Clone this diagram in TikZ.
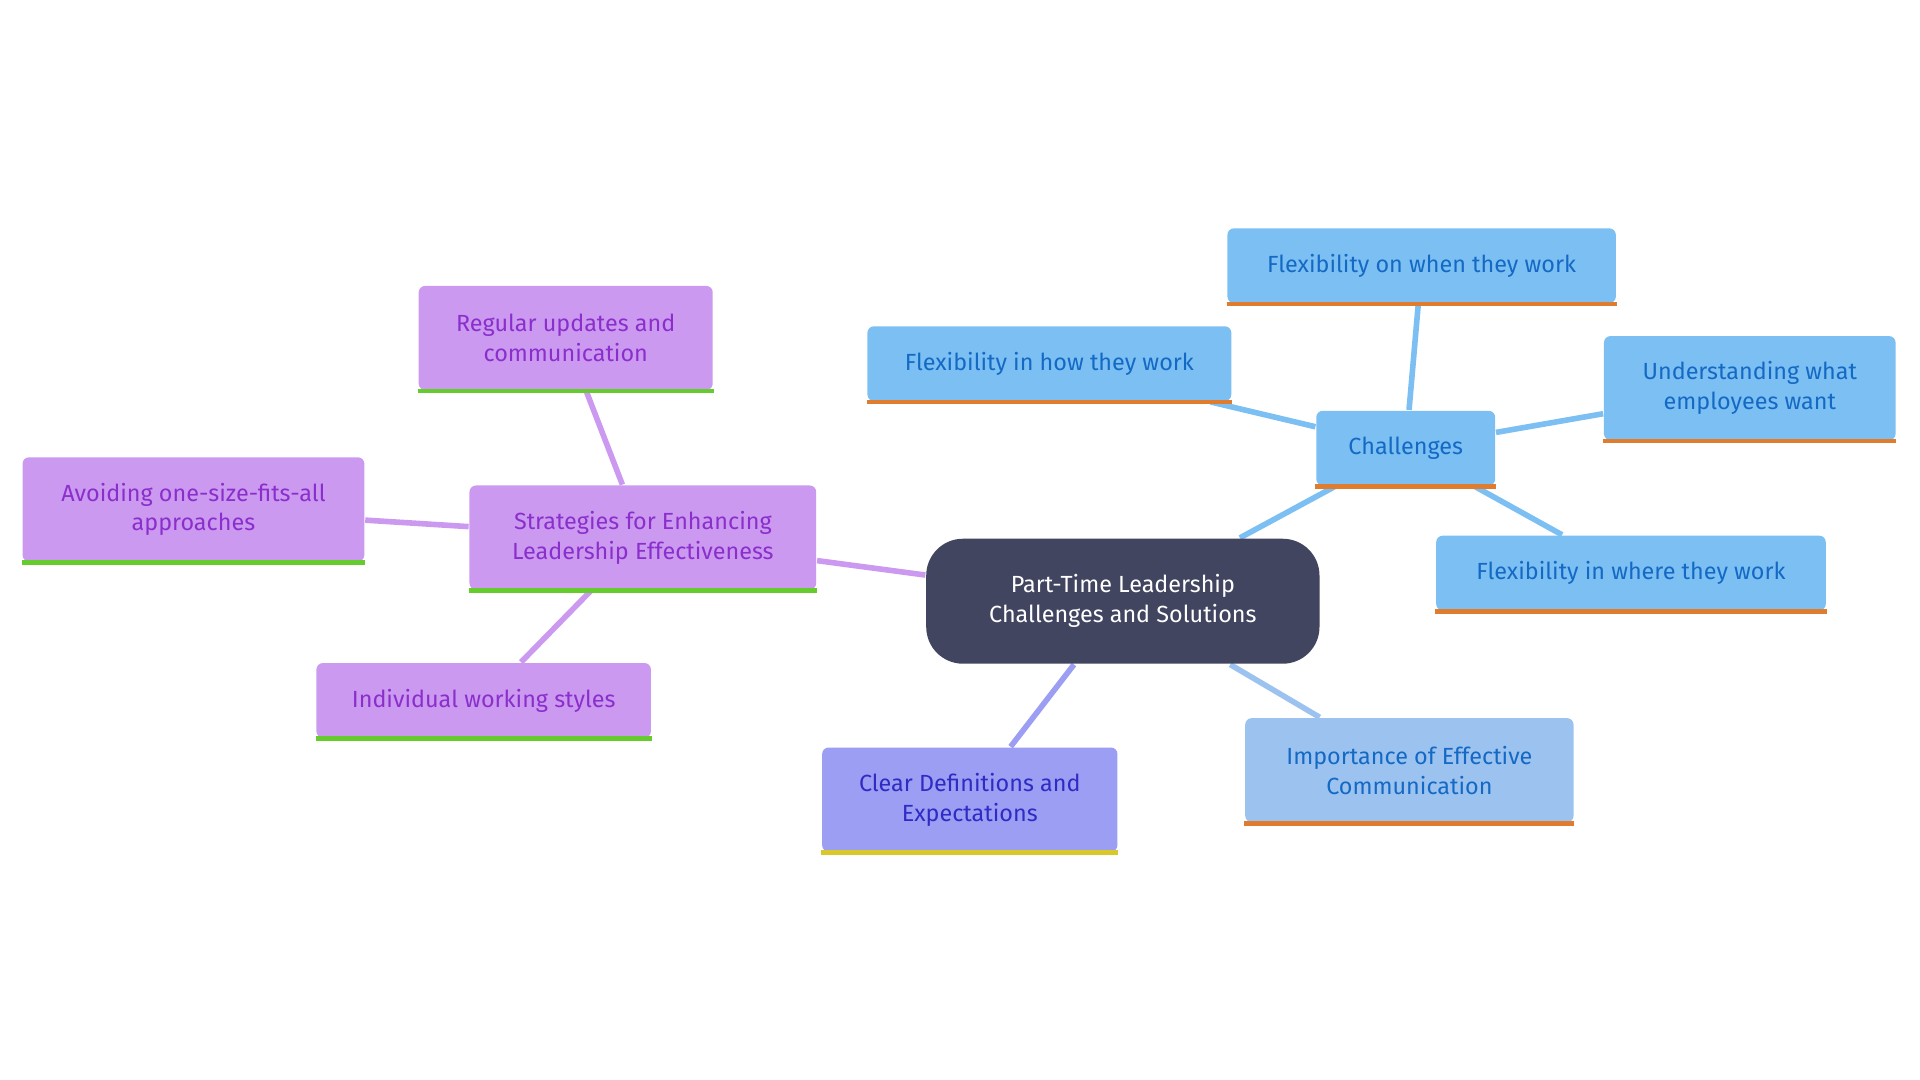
\documentclass[tikz,border=0pt]{standalone}
\usepackage{fontspec}
\setmainfont{Fira Sans}[Scale=0.92]
\usetikzlibrary{positioning,backgrounds}

\definecolor{hubcol}{HTML}{414560}
\definecolor{bluebox}{HTML}{7CBFF2}
\definecolor{bluetxt}{HTML}{1469C4}
\definecolor{lbluebox}{HTML}{9CC3F0}
\definecolor{orangeln}{HTML}{E07C2E}
\definecolor{purpbox}{HTML}{CC99F0}
\definecolor{purptxt}{HTML}{8A2FCC}
\definecolor{greenln}{HTML}{66CC2E}
\definecolor{indbox}{HTML}{9B9EF2}
\definecolor{indtxt}{HTML}{2F2BC4}
\definecolor{yellowln}{HTML}{D8C82A}

\tikzset{
  box/.style={rounded corners=1.5pt, align=center, font=\fontsize{5.9}{6.9}\selectfont,
    inner sep=0pt, minimum height=0.61cm},
  bluenode/.style={box, fill=bluebox, text=bluetxt},
  purpnode/.style={box, fill=purpbox, text=purptxt},
  link/.style={line width=1.3pt},
}

\begin{document}
\begin{tikzpicture}[x=0.01cm,y=-0.01cm]
      \useasboundingbox (0,0) rectangle (1568,882);

      \node[fill=hubcol, text=white, rounded corners=0.3cm, align=center,
            font=\fontsize{5.9}{6.9}\selectfont, minimum width=3.21cm, minimum height=1.02cm]
            (hub) at (917,491) {Part-Time Leadership\\Challenges and Solutions};

      % challenges branch
      \node[bluenode, minimum width=1.46cm] (chal) at (1148,366) {Challenges};
      \node[bluenode, minimum width=3.17cm] (when) at (1161,217) {Flexibility on when they work};
      \node[bluenode, minimum width=2.97cm] (how) at (857,297) {Flexibility in how they work};
      \node[bluenode, minimum width=2.38cm, minimum height=0.85cm] (want) at (1429,317) {Understanding what\\employees want};
      \node[bluenode, minimum width=3.18cm] (where) at (1332,468) {Flexibility in where they work};
      \node[box, fill=lbluebox, text=bluetxt, minimum width=2.68cm, minimum height=0.85cm]
            (comm) at (1151,629) {Importance of Effective\\Communication};

      % strategies branch
      \node[purpnode, minimum width=2.83cm, minimum height=0.85cm] (strat) at (525,439) {Strategies for Enhancing\\Leadership Effectiveness};
      \node[purpnode, minimum width=2.40cm, minimum height=0.85cm] (upd) at (462,276) {Regular updates and\\communication};
      \node[purpnode, minimum width=2.79cm, minimum height=0.85cm] (avoid) at (158,416) {Avoiding one-size-fits-all\\approaches};
      \node[purpnode, minimum width=2.73cm] (indiv) at (395,572) {Individual working styles};

      \node[box, fill=indbox, text=indtxt, minimum width=2.41cm, minimum height=0.85cm]
            (clear) at (792,653) {Clear Definitions and\\Expectations};

      % bottom stripes
      \foreach \n in {chal,when,how,want,where,comm}
        \draw[orangeln, line width=1.1pt] (\n.south west) -- (\n.south east);
      \foreach \n in {strat,upd,avoid,indiv}
        \draw[greenln, line width=1.1pt] (\n.south west) -- (\n.south east);
      \draw[yellowln, line width=1.1pt] (clear.south west) -- (clear.south east);

      \begin{scope}[on background layer]
        \draw[link, bluebox] (hub) -- (chal);
        \draw[link, bluebox] (chal) -- (when);
        \draw[link, bluebox] (chal) -- (how);
        \draw[link, bluebox] (chal) -- (want);
        \draw[link, bluebox] (chal) -- (where);
        \draw[link, lbluebox] (hub) -- (comm);
        \draw[link, purpbox] (hub) -- (strat);
        \draw[link, purpbox] (strat) -- (upd);
        \draw[link, purpbox] (strat) -- (avoid);
        \draw[link, purpbox] (strat) -- (indiv);
        \draw[link, indbox] (hub) -- (clear);
      \end{scope}
    \end{tikzpicture}
\end{document}
